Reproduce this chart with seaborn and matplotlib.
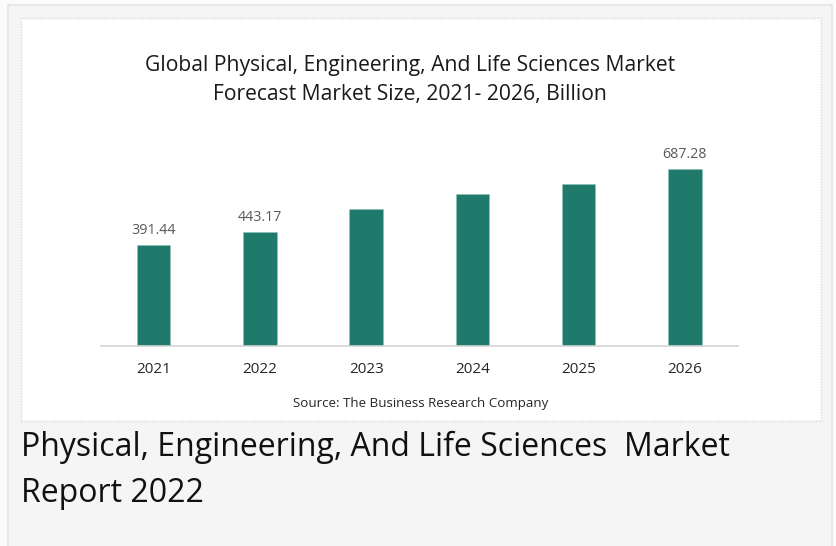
import matplotlib
matplotlib.use("Agg")
import matplotlib.pyplot as plt
import seaborn as sns
import pandas as pd
from matplotlib.patches import Rectangle

years = ["2021", "2022", "2023", "2024", "2025", "2026"]
values = [391.44, 443.17, 532.0, 589.0, 630.0, 687.28]
shown_labels = ["391.44", "443.17", "", "", "", "687.28"]

title_line1 = "Global Physical, Engineering, And Life Sciences Market"
title_line2 = "Forecast Market Size, 2021- 2026, Billion"
source_text = "Source: The Business Research Company"
page_line1 = "Physical, Engineering, And Life Sciences  Market"
page_line2 = "Report 2022"

W, H = 836, 546
sns.set_theme(style="white")
plt.rcParams['font.family'] = ['Open Sans', 'DejaVu Sans']

fig = plt.figure(figsize=(W / 100, H / 100), dpi=100)
fig.patch.set_facecolor("#fbfbfb")

def px_rect(x0, y0, x1, y1, **kw):
    r = Rectangle((x0 / W, 1 - y1 / H), (x1 - x0) / W, (y1 - y0) / H,
                  transform=fig.transFigure, **kw)
    fig.add_artist(r)

# grey page panel
px_rect(8, 4.5, 831.5, 560, facecolor="#f5f5f5", edgecolor="#e3e3e3", linewidth=1.2, zorder=-3)
# white chart card
px_rect(21, 18, 821, 421, facecolor="white", edgecolor="#d9d9d9", linewidth=1.0,
        linestyle=(0, (1, 1)), zorder=-2)

df = pd.DataFrame({"year": years, "value": values})

ax_left, ax_right = 100.5, 738
base_y, top_y = 345.5, 140
ax = fig.add_axes([ax_left / W, 1 - base_y / H, (ax_right - ax_left) / W, (base_y - top_y) / H])
ax.set_facecolor("none")
ax.set_zorder(1)
sns.barplot(data=df, x="year", y="value", color="#1f7a6b", width=0.316,
            saturation=1, ax=ax, edgecolor="#8fc3b8", linewidth=0.4)
ax.set_xlim(-0.5, 5.5)
ax.set_ylim(0, (base_y - top_y) / 0.2569)
for s in ["top", "left", "right"]:
    ax.spines[s].set_visible(False)
ax.spines["bottom"].set_color("#d4d4d4")
ax.spines["bottom"].set_linewidth(1.2)
ax.set_yticks([])
ax.set_xlabel("")
ax.set_ylabel("")
ax.tick_params(axis="x", length=0, pad=12, labelsize=11, labelcolor="#262626")

for bars in ax.containers:
    ax.bar_label(bars, labels=shown_labels, padding=5, fontsize=10.3, color="#595959")

fig.text(410 / W, 1 - 71 / H, title_line1, ha="center", va="baseline", fontsize=15.2,
         color="#1a1a1a")
fig.text(410 / W, 1 - 100 / H, title_line2, ha="center", va="baseline", fontsize=15.2,
         color="#1a1a1a")
fig.text(421 / W, 1 - 403 / H, source_text, ha="center", va="center", fontsize=9.6,
         color="#262626")
fig.text(21 / W, 1 - 456.5 / H, page_line1, ha="left", va="baseline", fontsize=23,
         color="#111111")
fig.text(21 / W, 1 - 501.7 / H, page_line2, ha="left", va="baseline", fontsize=23,
         color="#111111")

fig.savefig("out.png", dpi=100, facecolor=fig.get_facecolor())
